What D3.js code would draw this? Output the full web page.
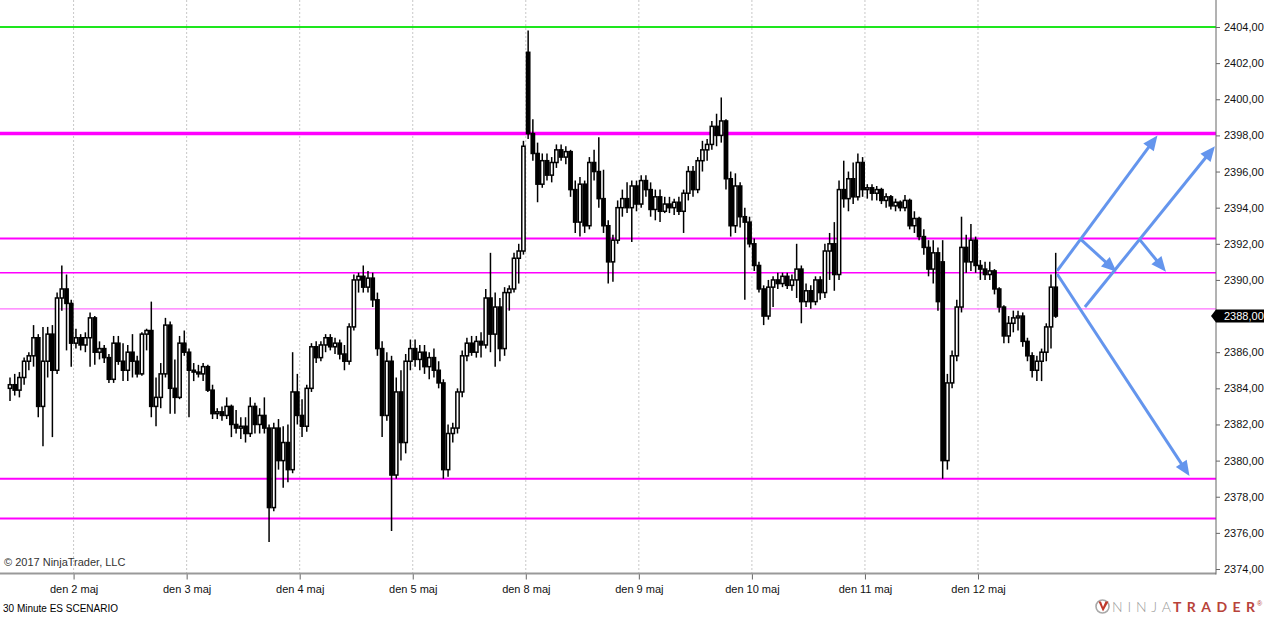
<!DOCTYPE html>
<html lang="sv">

<head>
  <meta charset="UTF-8">
  <title>30 Minute ES SCENARIO</title>
  <script src="https://cdn.jsdelivr.net/npm/d3@7/dist/d3.min.js"></script>
  <style>
    body { margin: 0; background: #fff; }
    svg { display: block; font-family: "Liberation Sans", Arial, sans-serif; }
  </style>
</head>

<body>
</body>
<script>
  const svgWidth = 1264
  const svgHeight = 617

  // 30 min ES bars
  const opens = [
    2384.0, 2384.2, 2383.9, 2384.6, 2385.5, 2385.8, 2386.8, 2383.0, 2385.5, 2387.0, 2385.0, 2389.0, 2389.5, 2388.7, 2386.5, 2386.8, 2386.4, 2386.8, 2387.9, 2386.0, 2386.2, 2385.7, 2384.5, 2386.5,
    2385.5, 2385.0, 2386.0, 2385.5, 2384.8, 2387.0, 2387.2, 2383.0, 2383.5, 2384.8, 2387.5, 2384.0, 2383.5, 2386.5, 2386.0, 2385.0, 2384.9, 2384.8, 2385.2, 2383.9, 2382.6, 2382.7, 2382.5, 2383.0,
    2382.0, 2381.8, 2381.9, 2381.5, 2383.0, 2382.0, 2382.5, 2381.8, 2377.4, 2381.8, 2380.0, 2381.0, 2379.5, 2383.8, 2382.5, 2381.9, 2384.0, 2386.3, 2385.7, 2386.4, 2386.8, 2386.3, 2386.5, 2385.9,
    2385.5, 2387.4, 2390.0, 2390.2, 2389.6, 2390.1, 2388.9, 2386.2, 2382.5, 2385.5, 2379.2, 2383.8, 2381.0, 2385.5, 2386.2, 2385.6, 2386.0, 2385.2, 2385.7, 2385.0, 2384.3, 2379.5, 2381.5, 2381.8,
    2383.8, 2385.8, 2386.5, 2386.0, 2386.6, 2386.4, 2389.0, 2387.0, 2388.5, 2386.2, 2389.3, 2389.5, 2391.2, 2391.6, 2402.6, 2398.1, 2397.0, 2395.3, 2396.6, 2395.8, 2396.5, 2397.2, 2396.8, 2397.1,
    2395.0, 2393.2, 2395.3, 2393.0, 2396.5, 2396.0, 2394.5, 2393.0, 2391.0, 2392.2, 2394.0, 2394.5, 2394.0, 2395.2, 2394.2, 2395.5, 2395.0, 2393.9, 2394.6, 2393.8, 2394.2, 2394.0, 2394.3, 2393.8,
    2394.8, 2396.0, 2395.0, 2396.6, 2397.2, 2397.5, 2398.5, 2398.0, 2398.8, 2395.6, 2393.0, 2395.2, 2393.5, 2393.2, 2392.0, 2390.8, 2389.5, 2388.0, 2389.6, 2390.0, 2389.8, 2390.2, 2389.7, 2390.0,
    2390.6, 2388.8, 2389.4, 2388.8, 2390.0, 2389.3, 2391.6, 2392.0, 2390.3, 2395.0, 2394.5, 2395.6, 2394.6, 2396.5, 2395.0, 2395.1, 2394.8, 2395.0, 2394.4, 2394.6, 2394.1, 2394.3, 2394.0, 2394.4,
    2393.0, 2393.4, 2392.4, 2391.8, 2390.6, 2391.5, 2391.0, 2380.0, 2384.3, 2385.8, 2388.5, 2391.8, 2391.0, 2392.2, 2390.8, 2390.6, 2390.3, 2390.5, 2389.5, 2388.5, 2386.9, 2387.6, 2387.9, 2388.0,
    2386.6, 2385.8, 2385.0, 2385.5, 2386.0, 2387.4, 2389.6
  ]
  const highs = [
    2384.6, 2384.8, 2384.9, 2385.7, 2386.0, 2387.5, 2387.0, 2387.4, 2387.4, 2387.5, 2389.3, 2390.8, 2390.3, 2388.9, 2387.3, 2387.0, 2387.1, 2388.2, 2388.0, 2386.6, 2386.4, 2385.9, 2386.9, 2386.9,
    2386.5, 2386.4, 2387.0, 2385.8, 2387.1, 2387.3, 2388.8, 2384.6, 2385.4, 2387.9, 2387.7, 2385.6, 2386.9, 2387.2, 2386.2, 2385.4, 2385.3, 2385.4, 2385.3, 2384.2, 2382.9, 2383.0, 2383.5, 2383.1,
    2382.8, 2382.4, 2382.4, 2383.5, 2383.2, 2382.9, 2383.5, 2382.0, 2382.1, 2382.3, 2381.9, 2382.0, 2386.0, 2384.8, 2383.4, 2384.2, 2386.5, 2386.6, 2386.6, 2387.0, 2387.0, 2386.8, 2386.7, 2386.4,
    2387.6, 2390.3, 2390.4, 2390.8, 2390.5, 2390.4, 2389.3, 2386.6, 2386.0, 2385.8, 2384.6, 2385.0, 2385.9, 2386.7, 2386.7, 2386.4, 2386.4, 2386.0, 2386.2, 2385.5, 2384.5, 2382.0, 2382.1, 2384.0,
    2386.1, 2386.8, 2386.9, 2386.9, 2387.1, 2389.5, 2391.5, 2389.3, 2389.0, 2389.6, 2389.7, 2391.5, 2392.0, 2397.7, 2403.8, 2398.9, 2397.6, 2397.0, 2397.0, 2396.8, 2397.5, 2397.5, 2397.4, 2397.2,
    2395.5, 2395.7, 2395.5, 2396.8, 2397.2, 2397.9, 2396.1, 2393.3, 2392.5, 2394.4, 2395.0, 2395.4, 2395.5, 2395.5, 2395.8, 2395.8, 2395.4, 2395.0, 2395.0, 2394.6, 2394.6, 2394.5, 2394.6, 2395.0,
    2396.3, 2396.3, 2396.8, 2397.7, 2397.8, 2398.8, 2399.2, 2400.1, 2398.9, 2396.0, 2395.9, 2395.4, 2394.0, 2393.5, 2392.3, 2391.0, 2389.7, 2390.0, 2390.2, 2390.4, 2390.4, 2390.4, 2390.3, 2392.0,
    2390.8, 2389.8, 2389.7, 2390.2, 2390.2, 2392.0, 2392.6, 2393.2, 2395.5, 2396.6, 2396.0, 2396.5, 2397.0, 2396.8, 2395.3, 2395.3, 2395.2, 2395.1, 2394.8, 2394.7, 2394.5, 2394.4, 2394.7, 2394.5,
    2393.8, 2393.5, 2392.8, 2392.2, 2392.2, 2391.8, 2392.2, 2384.8, 2386.1, 2388.9, 2393.5, 2392.5, 2393.1, 2392.4, 2391.1, 2391.0, 2391.0, 2390.6, 2389.6, 2388.6, 2388.0, 2388.3, 2388.3, 2388.2,
    2386.8, 2386.0, 2385.8, 2386.2, 2387.6, 2390.3, 2391.5
  ]
  const lows = [
    2383.3, 2383.6, 2383.5, 2384.2, 2385.0, 2385.2, 2382.4, 2380.8, 2384.6, 2381.3, 2384.8, 2388.3, 2386.1, 2385.2, 2386.2, 2386.1, 2386.0, 2385.2, 2385.3, 2385.6, 2385.4, 2384.3, 2384.3, 2385.3,
    2384.4, 2384.4, 2384.6, 2384.6, 2384.7, 2386.1, 2382.4, 2381.9, 2382.9, 2384.6, 2382.6, 2382.6, 2383.4, 2385.8, 2382.4, 2384.4, 2384.6, 2384.4, 2383.8, 2382.3, 2382.3, 2382.2, 2382.3, 2381.3,
    2381.5, 2381.2, 2381.0, 2381.3, 2381.5, 2381.5, 2381.5, 2375.5, 2377.2, 2379.5, 2378.5, 2378.8, 2379.3, 2382.0, 2381.3, 2381.6, 2383.8, 2385.4, 2385.5, 2386.0, 2386.1, 2385.9, 2385.6, 2385.0,
    2385.3, 2387.2, 2389.3, 2389.3, 2389.3, 2388.5, 2385.8, 2381.3, 2382.2, 2376.1, 2379.0, 2380.0, 2380.4, 2385.0, 2385.2, 2385.0, 2384.8, 2384.5, 2384.6, 2384.0, 2379.0, 2379.1, 2381.0, 2381.5,
    2383.5, 2385.5, 2385.8, 2385.7, 2385.7, 2386.2, 2386.0, 2385.2, 2385.5, 2385.8, 2388.3, 2389.3, 2389.8, 2391.4, 2397.8, 2396.6, 2394.3, 2395.1, 2395.5, 2395.4, 2396.2, 2396.6, 2396.4, 2394.6,
    2392.6, 2392.4, 2392.6, 2392.8, 2395.5, 2394.0, 2392.6, 2389.8, 2389.9, 2392.0, 2393.5, 2393.7, 2392.1, 2393.8, 2394.0, 2394.6, 2393.5, 2393.3, 2393.2, 2393.7, 2393.7, 2393.6, 2393.6, 2392.6,
    2394.4, 2394.6, 2394.8, 2396.0, 2396.6, 2397.2, 2397.4, 2397.6, 2395.0, 2392.4, 2392.6, 2392.9, 2388.9, 2391.8, 2390.5, 2389.3, 2387.5, 2387.8, 2388.5, 2389.5, 2389.6, 2389.5, 2389.4, 2389.0,
    2387.6, 2388.5, 2388.4, 2388.6, 2388.9, 2389.0, 2390.0, 2389.4, 2390.0, 2394.0, 2393.8, 2394.2, 2394.4, 2394.6, 2394.5, 2394.4, 2394.4, 2394.2, 2394.0, 2393.9, 2393.8, 2393.8, 2393.8, 2392.8,
    2392.6, 2392.2, 2391.4, 2390.2, 2389.8, 2388.3, 2379.0, 2379.5, 2384.0, 2385.5, 2388.2, 2390.4, 2390.5, 2390.4, 2390.0, 2390.0, 2390.0, 2389.2, 2388.2, 2386.5, 2386.5, 2387.1, 2387.2, 2386.3,
    2385.5, 2384.6, 2384.4, 2384.4, 2385.5, 2386.2, 2387.9
  ]
  const closes = [
    2384.2, 2383.9, 2384.6, 2385.5, 2385.8, 2386.8, 2383.0, 2385.5, 2387.0, 2385.0, 2389.0, 2389.5, 2388.7, 2386.5, 2386.8, 2386.4, 2386.8, 2387.9, 2386.0, 2386.2, 2385.7, 2384.5, 2386.5, 2385.5,
    2385.0, 2386.0, 2385.5, 2384.8, 2387.0, 2387.2, 2383.0, 2383.5, 2384.8, 2387.5, 2384.0, 2383.5, 2386.5, 2386.0, 2385.0, 2384.9, 2384.8, 2385.2, 2383.9, 2382.6, 2382.7, 2382.5, 2383.0, 2382.0,
    2381.8, 2381.9, 2381.5, 2383.0, 2382.0, 2382.5, 2381.8, 2377.4, 2381.8, 2380.0, 2381.0, 2379.5, 2383.8, 2382.5, 2381.9, 2384.0, 2386.3, 2385.7, 2386.4, 2386.8, 2386.3, 2386.5, 2385.9, 2385.5,
    2387.4, 2390.0, 2390.2, 2389.6, 2390.1, 2388.9, 2386.2, 2382.5, 2385.5, 2379.2, 2383.8, 2381.0, 2385.5, 2386.2, 2385.6, 2386.0, 2385.2, 2385.7, 2385.0, 2384.3, 2379.5, 2381.5, 2381.8, 2383.8,
    2385.8, 2386.5, 2386.0, 2386.6, 2386.4, 2389.0, 2387.0, 2388.5, 2386.2, 2389.3, 2389.5, 2391.2, 2391.6, 2397.4, 2398.1, 2397.0, 2395.3, 2396.6, 2395.8, 2396.5, 2397.2, 2396.8, 2397.1, 2395.0,
    2393.2, 2395.3, 2393.0, 2396.5, 2396.0, 2394.5, 2393.0, 2391.0, 2392.2, 2394.0, 2394.5, 2394.0, 2395.2, 2394.2, 2395.5, 2395.0, 2393.9, 2394.6, 2393.8, 2394.2, 2394.0, 2394.3, 2393.8, 2394.8,
    2396.0, 2395.0, 2396.6, 2397.2, 2397.5, 2398.5, 2398.0, 2398.8, 2395.6, 2393.0, 2395.2, 2393.5, 2393.2, 2392.0, 2390.8, 2389.5, 2388.0, 2389.6, 2390.0, 2389.8, 2390.2, 2389.7, 2390.0, 2390.6,
    2388.8, 2389.4, 2388.8, 2390.0, 2389.3, 2391.6, 2392.0, 2390.3, 2395.0, 2394.5, 2395.6, 2394.6, 2396.5, 2395.0, 2395.1, 2394.8, 2395.0, 2394.4, 2394.6, 2394.1, 2394.3, 2394.0, 2394.4, 2393.0,
    2393.4, 2392.4, 2391.8, 2390.6, 2391.5, 2388.8, 2380.0, 2384.3, 2385.8, 2388.5, 2391.8, 2391.0, 2392.2, 2390.8, 2390.6, 2390.3, 2390.5, 2389.5, 2388.5, 2386.9, 2387.6, 2387.9, 2388.0, 2386.6,
    2385.8, 2385.0, 2385.5, 2386.0, 2387.4, 2389.6, 2388.0
  ]

  // first bar of each session and its label
  const dayStarts = [14, 38, 62, 86, 110, 134, 158, 182, 206]
  const dayLabels = ['den 2 maj', 'den 3 maj', 'den 4 maj', 'den 5 maj', 'den 8 maj',
    'den 9 maj', 'den 10 maj', 'den 11 maj', 'den 12 maj']

  const priceTicks = d3.range(2374, 2405, 2)
  const lastPrice = 2388

  // horizontal lines drawn on the chart
  const levelPrices = [2404, 2398.1, 2392.3, 2390.4, 2388.4, 2379, 2376.8]

  // scenario arrows: [bar index, price] from -> to
  const arrowFrom = [[222.3, 2390.5], [222.3, 2390.33], [227.2, 2392.27], [228.2, 2388.5], [239.7, 2392.27]]
  const arrowTo = [[243.6, 2398.0], [250.4, 2379.15], [234.9, 2390.45], [255.8, 2397.4], [245.4, 2390.45]]

  const levelStyle = [
    { color: '#1ee61e', width: 2 },
    { color: '#ff00ff', width: 3.5 },
    { color: '#ff00ff', width: 2 },
    { color: '#ff00ff', width: 1.5 },
    { color: '#ff70ff', width: 1.2 },
    { color: '#ff00ff', width: 2 },
    { color: '#ff00ff', width: 2 }
  ]

  const plotRight = 1216
  const plotBottom = 573.5
  const barStep = 113.05 / 24

  const svg = d3.select('body').append('svg')
    .attr('width', svgWidth)
    .attr('height', svgHeight)

  const x = d3.scaleLinear()
    .domain([0, 222])
    .range([10, 10 + 222 * barStep])
  const y = d3.scaleLinear()
    .domain([2374, 2404])
    .range([569, 27])

  const fmt = d3.formatLocale({ decimal: ',', thousands: ' ', grouping: [3], currency: ['', ''] }).format('.2f')

  svg.append('defs').append('clipPath').attr('id', 'clip')
    .append('rect').attr('x', 0).attr('y', 0).attr('width', plotRight).attr('height', plotBottom)

  // day grid lines
  svg.append('g').selectAll('line')
    .data(dayStarts)
    .join('line')
    .attr('x1', d => x(d - 0.5)).attr('x2', d => x(d - 0.5))
    .attr('y1', 0).attr('y2', plotBottom)
    .attr('stroke', '#c8c8c8')
    .attr('stroke-dasharray', '2,2')

  const plot = svg.append('g').attr('clip-path', 'url(#clip)')

  // level lines
  plot.append('g').selectAll('line')
    .data(levelPrices)
    .join('line')
    .attr('x1', 0).attr('x2', plotRight)
    .attr('y1', d => y(d)).attr('y2', d => y(d))
    .attr('stroke', (d, i) => levelStyle[i].color)
    .attr('stroke-width', (d, i) => levelStyle[i].width)

  // candles
  const bars = closes.map((c, i) => ({ i, o: opens[i], h: highs[i], l: lows[i], c }))
  const bw = 3.3
  const candles = plot.append('g')
  candles.selectAll('line')
    .data(bars)
    .join('line')
    .attr('x1', d => x(d.i)).attr('x2', d => x(d.i))
    .attr('y1', d => y(d.h)).attr('y2', d => y(d.l))
    .attr('stroke', '#000')
    .attr('stroke-width', 1.5)
  candles.selectAll('rect')
    .data(bars)
    .join('rect')
    .attr('x', d => x(d.i) - bw / 2)
    .attr('width', bw)
    .attr('y', d => y(Math.max(d.o, d.c)))
    .attr('height', d => Math.max(1, Math.abs(y(d.o) - y(d.c))))
    .attr('fill', d => d.c >= d.o ? '#fff' : '#000')
    .attr('stroke', '#000')
    .attr('stroke-width', 1.5)

  // arrows
  const arrowColor = '#6495ed'
  const ag = plot.append('g')
  arrowFrom.forEach((a, k) => {
    const x1 = x(a[0]), y1 = y(a[1])
    const x2 = x(arrowTo[k][0]), y2 = y(arrowTo[k][1])
    const len = Math.hypot(x2 - x1, y2 - y1)
    const ux = (x2 - x1) / len, uy = (y2 - y1) / len
    const headLen = 15, headHalf = 6.5
    const bx = x2 - ux * headLen, by = y2 - uy * headLen
    ag.append('line')
      .attr('x1', x1).attr('y1', y1)
      .attr('x2', x2 - ux * 10).attr('y2', y2 - uy * 10)
      .attr('stroke', arrowColor)
      .attr('stroke-width', 3)
    ag.append('path')
      .attr('d', `M${x2},${y2}L${bx - uy * headHalf},${by + ux * headHalf}L${bx + uy * headHalf},${by - ux * headHalf}Z`)
      .attr('fill', arrowColor)
  })

  // axes
  const yAxis = svg.append('g')
    .attr('transform', `translate(${plotRight},0)`)
    .call(d3.axisRight(y).tickValues(priceTicks).tickFormat(fmt).tickSize(4).tickPadding(4))
  yAxis.select('.domain').remove()
  yAxis.selectAll('.tick line').attr('stroke', '#666')
  yAxis.selectAll('.tick text').attr('font-size', 11).attr('fill', '#111')
    .attr('font-family', '"Liberation Sans", Arial, sans-serif')

  const xAxis = svg.append('g')
    .attr('transform', `translate(0,${plotBottom})`)
    .call(d3.axisBottom(x).tickValues(dayStarts.map(d => d - 0.5)).tickFormat((d, i) => dayLabels[i]).tickSize(6).tickPadding(6))
  xAxis.select('.domain').remove()
  xAxis.selectAll('.tick line').attr('stroke', '#666')
  xAxis.selectAll('.tick text').attr('font-size', 11).attr('fill', '#111')
    .attr('font-family', '"Liberation Sans", Arial, sans-serif')

  svg.append('line')
    .attr('x1', 0).attr('x2', plotRight)
    .attr('y1', plotBottom).attr('y2', plotBottom)
    .attr('stroke', '#999').attr('stroke-width', 2)
  svg.append('line')
    .attr('x1', plotRight).attr('x2', plotRight)
    .attr('y1', 0).attr('y2', plotBottom + 1)
    .attr('stroke', '#666').attr('stroke-width', 1)

  // last price tag
  const ly = y(lastPrice)
  svg.append('path')
    .attr('d', `M1211,${ly}L1216,${ly - 6.5}H1264V${ly + 6.5}H1216Z`)
    .attr('fill', '#000')
  svg.append('text')
    .attr('x', 1224).attr('y', ly).attr('dy', '0.35em')
    .attr('font-size', 11).attr('fill', '#fff')
    .text(fmt(lastPrice))

  // captions
  svg.append('text')
    .attr('x', 4).attr('y', 566)
    .attr('font-size', 11).attr('fill', '#333')
    .text('© 2017 NinjaTrader, LLC')
  svg.append('text')
    .attr('x', 3).attr('y', 612)
    .attr('font-size', 10).attr('fill', '#000')
    .text('30 Minute ES SCENARIO')

  // logo
  const logo = svg.append('g')
  logo.append('circle')
    .attr('cx', 1102.5).attr('cy', 606.5).attr('r', 6.5)
    .attr('fill', 'none').attr('stroke', '#a8a8a8').attr('stroke-width', 1.6)
  logo.append('path')
    .attr('d', 'M1098.5,601.5L1103,611.5L1108.5,601.5L1105.5,601.5L1103,607L1101,601.5Z')
    .attr('fill', '#c0392b')
  logo.append('text')
    .attr('x', 1112).attr('y', 612)
    .attr('font-size', 14).attr('fill', '#9a9a9a')
    .attr('font-family', 'Lato, "Open Sans", sans-serif').attr('font-weight', 300)
    .attr('textLength', 59).attr('lengthAdjust', 'spacing')
    .text('NINJA')
  logo.append('text')
    .attr('x', 1173).attr('y', 612)
    .attr('font-size', 14).attr('fill', '#b8433a')
    .attr('font-family', 'Lato, "Open Sans", sans-serif').attr('font-weight', 700)
    .attr('textLength', 82).attr('lengthAdjust', 'spacing')
    .text('TRADER')
  logo.append('text')
    .attr('x', 1257).attr('y', 606)
    .attr('font-size', 7).attr('fill', '#b8433a')
    .text('®')
</script>

</html>
